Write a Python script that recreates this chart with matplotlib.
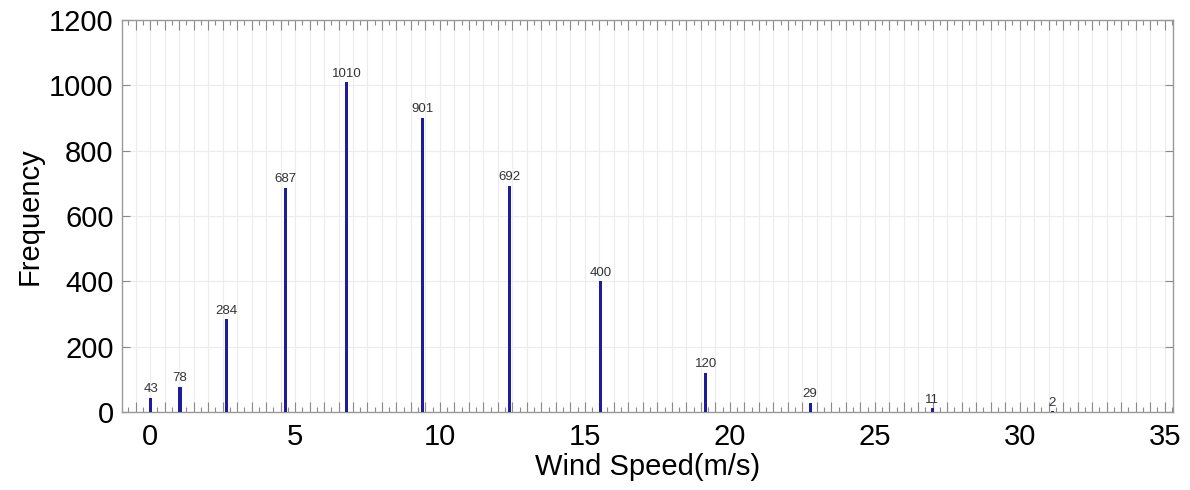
import matplotlib.pyplot as plt
from matplotlib.ticker import MultipleLocator, FuncFormatter

# bin centres (m/s) and counts
wind_speed = [0.02, 1.03, 2.64, 4.66, 6.78, 9.39, 12.41, 15.54, 19.17, 22.77, 26.99, 31.13]
frequency = [43, 78, 284, 687, 1010, 901, 692, 400, 120, 29, 11, 2]

plt.rcParams["font.family"] = ["Liberation Sans", "DejaVu Sans"]

fig = plt.figure(figsize=(11.9, 4.9), dpi=100)
ax = fig.add_axes([0.1025, 0.159, 0.883, 0.8])

bar_color = "#1c1c9c"
ax.bar(wind_speed, frequency, width=0.11, color=bar_color, zorder=3)
for x, y in zip(wind_speed, frequency):
    ax.text(x, y + 8, str(y), ha="center", va="bottom", fontsize=9.5, color="#333333", zorder=4)

ax.set_xlim(-0.97, 35.28)
ax.set_ylim(0, 1200)

ax.xaxis.set_major_locator(MultipleLocator(0.5))
ax.xaxis.set_minor_locator(MultipleLocator(0.25))
ax.xaxis.set_major_formatter(
    FuncFormatter(lambda v, p: f"{int(round(v))}" if abs(v / 5 - round(v / 5)) < 1e-6 else "")
)
ax.yaxis.set_major_locator(MultipleLocator(200))

ax.tick_params(axis="x", which="major", direction="in", length=7, width=0.8,
               color="#8a8a8a", top=True, labelsize=21, pad=8)
ax.tick_params(axis="x", which="minor", direction="in", length=3.5, width=0.8,
               color="#8a8a8a", top=True)
ax.tick_params(axis="y", which="major", direction="in", length=6, width=0.8,
               color="#8a8a8a", right=True, labelsize=21, pad=6)

ax.grid(True, which="major", color="#ececec", linewidth=0.8, zorder=0)
ax.set_axisbelow(True)

for s in ax.spines.values():
    s.set_color("#999999")
    s.set_linewidth(1.0)

ax.set_xlabel("Wind Speed(m/s)", fontsize=21, labelpad=1)
ax.set_ylabel("Frequency", fontsize=21, labelpad=4)

fig.savefig("out.png", dpi=100, facecolor="white")
